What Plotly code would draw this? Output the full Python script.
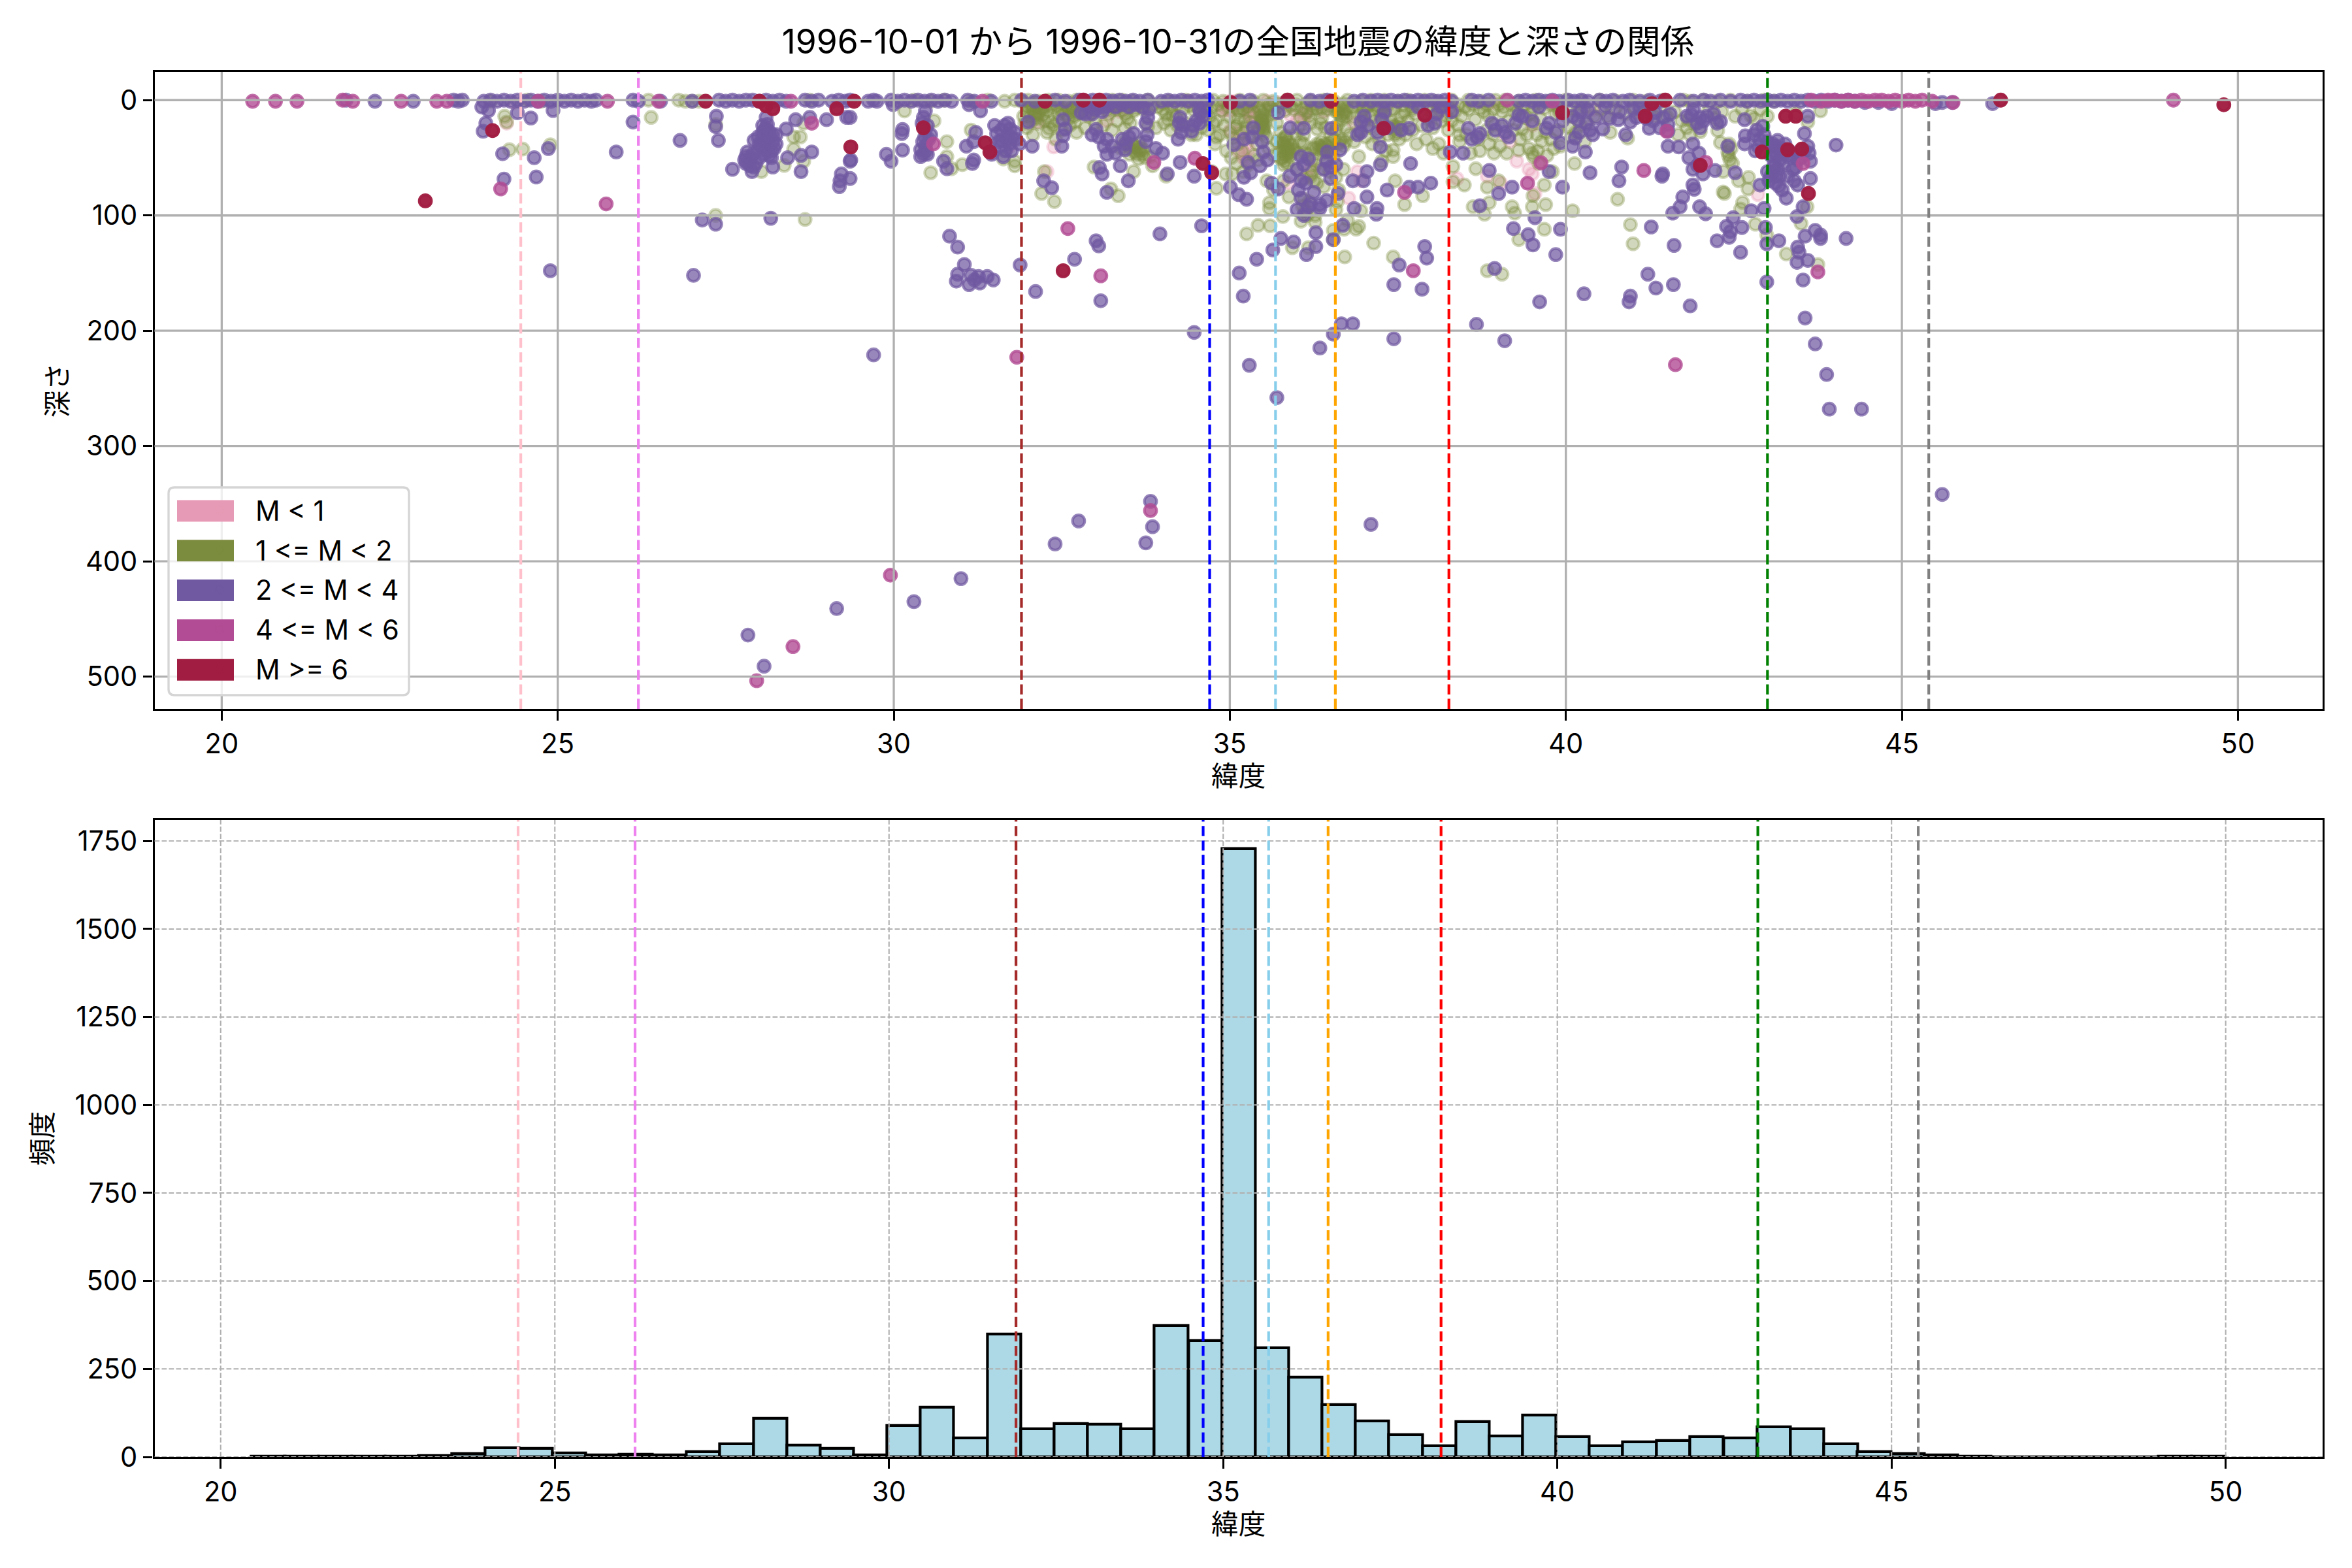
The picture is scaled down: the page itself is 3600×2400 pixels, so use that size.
import plotly.graph_objects as go

W, H = 3600, 2400

TITLE = "1996-10-01 から 1996-10-31の全国地震の緯度と深さの関係"
FONT = "Inter, Noto Sans CJK JP, sans-serif"

lat_ticks = [20, 25, 30, 35, 40, 45, 50]
depth_ticks = [0, 100, 200, 300, 400, 500]
freq_ticks = [0, 250, 500, 750, 1000, 1250, 1500, 1750]

ref_lats = [24.45, 26.2, 31.9, 34.7, 35.68, 36.57, 38.26, 43.0, 45.4]
ref_colors = ["#ffc0cb", "#ee82ee", "#a52a2a", "#0000ff", "#87ceeb", "#ffa500", "#ff0000", "#008000", "#808080"]

hist_centers = [20.71, 21.21, 21.71, 22.21, 22.71, 23.21, 23.71, 24.21, 24.71, 25.21,
                25.71, 26.21, 26.71, 27.22, 27.72, 28.22, 28.72, 29.22, 29.72, 30.22,
                30.72, 31.22, 31.72, 32.22, 32.72, 33.22, 33.72, 34.22, 34.73, 35.23,
                35.73, 36.23, 36.73, 37.23, 37.73, 38.23, 38.73, 39.23, 39.73, 40.23,
                40.73, 41.23, 41.73, 42.23, 42.74, 43.24, 43.74, 44.24, 44.74, 45.24,
                45.74, 46.24, 46.74, 47.24, 47.74, 48.24, 48.74, 49.24, 49.74]
hist_counts = [2, 2, 2, 1, 2, 3, 9, 26, 25, 12, 5, 7, 5, 15, 37, 109, 33, 24, 6, 90,
               142, 53, 349, 79, 95, 92, 80, 374, 331, 1728, 310, 227, 148, 103, 63, 32, 101, 60, 119, 58,
               32, 43, 47, 58, 54, 86, 80, 38, 15, 10, 5, 2, 0, 0, 0, 0, 0, 1, 1]

legend_labels = ["M < 1", "1 <= M < 2", "2 <= M < 4", "4 <= M < 6", "M >= 6"]
legend_colors = ["#e79ab5", "#7c8c3e", "#7059a1", "#b24c94", "#a11e42"]
series_alpha = [0.35, 0.35, 0.72, 0.8, 0.97]

pts_m0 = [(24.35, 2), (24.24, 20), (33.17, 18), (33.37, 10), (32.38, 40.6), (32.28, 62), (34.94, 3), (34.9, 9.4),
          (35.28, 9.4), (35.28, 43.4), (35.01, 26.4), (36.13, 10), (35.9, 13), (35.87, 72), (36.2, 58.5), (39.17, 36),
          (39.27, 53), (38.38, 68), (38.83, 66), (39.03, 72), (39.54, 81), (36.77, 85), (35.14, 45), (32.14, 19),
          (31.73, 40), (42.86, 82), (35.0, 1), (34.96, 5), (35.05, 2), (35.1, 1), (35.3, 14), (35.18, 34),
          (35.2, 50), (35.35, 20), (35.55, 1), (35.7, 2), (36.0, 18), (36.25, 2), (36.4, 10), (36.15, 66),
          (39.1, 30), (39.5, 22), (33.0, 4), (32.6, 3), (32.9, 12), (33.6, 3), (34.4, 1), (37.3, 3), (38.9, 2), (40.4, 8),
          (34.92, 7), (34.97, 8), (35.02, 9), (35.32, 6), (35.3, 12), (35.33, 9), (35.14, 28), (35.25, 38), (35.22, 46),
          (35.24, 52), (36.12, 12), (36.1, 17), (36.85, 20), (36.9, 62), (36.95, 70), (39.45, 60), (39.5, 64), (38.1, 4)]

pts_m1 = [(30.16, 9.4), (30.6, 18), (30.79, 36), (30.79, 49), (31.02, 56), (30.86, 59.5), (30.55, 63), (31.15, 26),
          (31.8, 53), (31.8, 57), (31.63, 51), (32.07, 30), (32.31, 24.5), (32.34, 19), (32.41, 34), (32.24, 62),
          (32.2, 81), (32.39, 88), (33.34, 83), (33.23, 77), (32.98, 58), (33.57, 62), (33.44, 24.5), (33.78, 22.7),
          (33.57, 9.4), (33.44, 36), (33.57, 40), (33.71, 43), (33.81, 49), (33.64, 51), (33.85, 57), (33.37, 41.5),
          (33.51, 47), (34.05, 66), (34.43, 30), (34.8, 32), (34.73, 62), (34.94, 64), (34.8, 76.5), (35.04, 64),
          (35.48, 17), (35.51, 24.5), (35.3, 19), (35.83, 32), (35.86, 43), (35.89, 49), (35.76, 51), (36.37, 40),
          (36.23, 41.5), (36.17, 47), (36.51, 41.5), (36.64, 36), (36.67, 17), (36.61, 11), (37.46, 22.7), (37.39, 19),
          (37.12, 13), (36.37, 15), (35.59, 89), (35.59, 94), (35.79, 101), (36.06, 105), (36.27, 106), (36.27, 100),
          (35.88, 84), (35.42, 108.6), (35.6, 109), (35.25, 116), (35.93, 128), (36.17, 128), (36.54, 113), (36.54, 121),
          (36.71, 136), (37.14, 124), (36.92, 109.5), (36.88, 112), (36.92, 49), (36.69, 60), (36.58, 67), (37.43, 136),
          (37.46, 70), (37.43, 49), (37.26, 53), (38.11, 38), (38.25, 26), (38.42, 30), (37.43, 43.4), (36.95, 96),
          (36.3, 72), (37.6, 90.6), (37.87, 83), (38.49, 73.6), (38.32, 57.6), (38.32, 70.8), (38.66, 59.5), (38.93, 46),
          (38.86, 38), (38.69, 34), (38.42, 36), (38.62, 92.5), (38.86, 89), (38.83, 75.5), (39.0, 70), (38.79, 99),
          (39.2, 92.5), (39.24, 98), (39.51, 83), (39.5, 92.5), (39.7, 90.6), (39.68, 73.6), (39.3, 43.4), (39.3, 121),
          (39.68, 112), (38.83, 148), (39.05, 151), (39.64, 36), (39.57, 30), (39.92, 40), (38.94, 21),
          (35.0, 15), (35.1, 22), (35.2, 28), (35.3, 32), (35.35, 10), (35.4, 38), (35.6, 5), (35.65, 12), (35.7, 20),
          (35.75, 28), (35.8, 38), (35.95, 42), (36.0, 46), (36.1, 38), (36.1, 30), (35.95, 8), (36.05, 15), (36.2, 20),
          (36.3, 25), (36.45, 8), (36.5, 30), (36.6, 22), (36.75, 6), (36.85, 15), (37.0, 8), (37.1, 24), (37.3, 12),
          (37.35, 30), (37.55, 14), (37.7, 6), (37.85, 22), (38.0, 10), (38.15, 18), (32.0, 6), (32.1, 14), (32.2, 8),
          (32.45, 12), (32.6, 8), (32.8, 5), (32.9, 14), (33.0, 8), (33.2, 12), (33.35, 6), (34.0, 8), (34.2, 14),
          (34.3, 22), (34.6, 6), (35.1, 55), (35.2, 62), (35.55, 70), (35.65, 78), (35.8, 70), (36.0, 60), (36.2, 66),
          (36.4, 75), (36.35, 60), (36.55, 50), (39.4, 15), (39.6, 55), (39.8, 62), (39.85, 12),
          (40.96, 108), (41.0, 124.6), (40.77, 86), (40.1, 96), (40.13, 55), (40.66, 28), (40.92, 33), (41.67, 30),
          (42.26, 26.5), (42.0, 27.4), (42.75, 13.6), (42.3, 36.8), (42.41, 45), (42.48, 54.8), (42.34, 62), (42.57, 70),
          (42.72, 67), (42.71, 77), (42.34, 79.7), (42.36, 81), (42.63, 88.8), (42.6, 94.4), (42.82, 107.6), (42.99, 117),
          (43.28, 133.5), (43.5, 107), (43.75, 142.6), (43.59, 92.5), (43.6, 19), (43.79, 9.4), (41.82, 17), (43.42, 11),
          (24.21, 14), (24.24, 19), (24.28, 43), (24.48, 42.5), (24.89, 38.7), (26.39, 15), (27.35, 21), (27.35, 100),
          (28.68, 103.5), (28.51, 32), (28.61, 32), (28.51, 42.5), (28.66, 20), (28.66, 53), (28.37, 56.6), (28.03, 62),
          (28.1, 32), (26.8, 0), (26.9, 1), (27.0, 1), (24.0, 1), (24.55, 0), (24.75, 1), (26.35, 0), (27.1, 1), (28.75, 0),
          (30.3, 0), (30.55, 1), (30.75, 0), (31.15, 1), (31.4, 0), (31.65, 1), (31.8, 0), (31.9, 1), (32.0, 0), (32.15, 1),
          (32.3, 0), (32.45, 0), (32.6, 1), (32.72, 0), (33.05, 1), (33.25, 0), (33.4, 0), (33.55, 1), (33.78, 0), (34.1, 1),
          (34.35, 0), (34.75, 0), (34.9, 1), (35.15, 0), (35.35, 1), (35.5, 0), (35.65, 1), (35.85, 0), (36.0, 0), (36.2, 1),
          (36.4, 0), (36.55, 1), (36.75, 0), (36.95, 1), (37.1, 0), (37.3, 0), (37.5, 1), (37.65, 0), (37.9, 0), (38.05, 1),
          (38.3, 0), (38.55, 0), (38.75, 1), (38.95, 0), (39.1, 0), (39.3, 1), (39.55, 0), (39.75, 1), (40.0, 0), (40.25, 1),
          (40.5, 0), (40.75, 1), (41.0, 0), (41.2, 1), (41.45, 0), (41.75, 0), (41.85, 1), (42.05, 0), (42.25, 1), (42.45, 0),
          (42.7, 1), (42.95, 0), (43.1, 1)]

# tight clusters that read as solid olive in the reference
pts_m1_dense = [(35.46, 14), (35.47, 17), (35.48, 20), (35.49, 23), (35.5, 26), (35.51, 29), (35.47, 21), (35.49, 18),
                (35.52, 21), (35.44, 24), (35.53, 15), (35.5, 12), (35.45, 10), (35.55, 32), (35.42, 28),
                (35.78, 34), (35.8, 37), (35.82, 40), (35.84, 43), (35.86, 46), (35.81, 44), (35.79, 40), (35.83, 48),
                (35.85, 39), (35.87, 36), (35.88, 42), (35.9, 46), (35.76, 45), (35.78, 50), (35.82, 53), (35.84, 31),
                (35.86, 55), (35.8, 56), (35.92, 39), (35.94, 44), (36.3, 38), (36.33, 40), (36.36, 36), (36.39, 42),
                (36.42, 38), (36.45, 40), (36.41, 44), (36.38, 46), (36.35, 43), (36.28, 42), (36.48, 37), (36.5, 44),
                (36.55, 34), (36.62, 38), (36.66, 34), (36.69, 40), (36.72, 36), (36.68, 12), (36.7, 9), (36.65, 14),
                (36.6, 8), (36.72, 11), (36.74, 14), (37.45, 25), (37.48, 28), (37.42, 22), (37.5, 24), (37.46, 30),
                (37.52, 20), (33.55, 38), (33.6, 40), (33.63, 42), (33.66, 44), (33.62, 47), (33.58, 45), (33.68, 41),
                (33.7, 47), (33.52, 42), (33.65, 37), (33.48, 39), (33.74, 50), (32.0, 10), (32.03, 14), (32.07, 8),
                (32.1, 11), (32.13, 16), (32.16, 12), (32.05, 18), (32.18, 7), (32.22, 13), (32.25, 18), (31.93, 14),
                (31.95, 20), (31.98, 24), (32.55, 12), (32.6, 16), (32.63, 10), (32.68, 14), (32.7, 19), (32.75, 12),
                (32.45, 18), (33.45, 12), (33.48, 16), (33.52, 20), (34.05, 12), (34.08, 17), (34.15, 13), (34.65, 10),
                (34.7, 14), (34.75, 20), (34.8, 18), (35.0, 28), (35.05, 33), (35.08, 24), (35.12, 16), (35.15, 10),
                (35.2, 8), (35.22, 18), (35.25, 24), (36.02, 24), (36.15, 10), (36.18, 14), (36.3, 8), (36.35, 20),
                (36.42, 24), (36.95, 14), (37.0, 18), (37.05, 6), (37.15, 18), (37.2, 8), (37.25, 14), (37.4, 8),
                (37.6, 10), (37.65, 18), (37.75, 12), (37.95, 16), (38.02, 24), (38.12, 9), (38.22, 14), (38.35, 10),
                (38.45, 14), (38.55, 8), (38.65, 17), (38.78, 10), (38.85, 14), (39.05, 10), (39.15, 18), (39.25, 11),
                (39.35, 25), (39.47, 12), (39.52, 20), (39.62, 16), (39.7, 28), (39.78, 34), (39.82, 42), (39.45, 42),
                (39.5, 46), (39.52, 49), (39.9, 10), (40.02, 14), (40.05, 24), (40.08, 32), (40.15, 28), (40.22, 22),
                (40.28, 36), (40.32, 20), (41.4, 8), (41.5, 14), (41.8, 24), (41.85, 30), (41.9, 20), (42.42, 48),
                (42.44, 52), (42.46, 42), (42.43, 38), (36.1, 86), (36.08, 92), (36.12, 96), (36.15, 100), (36.18, 88),
                (36.1, 68), (36.25, 70), (36.22, 62), (36.6, 88), (36.58, 95), (36.62, 78), (36.75, 104), (36.7, 112)]

# further shallow olive events between 32 and 40 degrees
pts_m1_shallow = [(32.02, 3), (32.06, 5), (32.12, 4), (32.18, 3), (32.24, 6), (32.28, 9), (32.33, 4), (32.38, 7), (32.43, 5), (32.5, 9),
                  (32.57, 5), (32.65, 7), (32.72, 5), (32.78, 9), (32.85, 3), (32.92, 8), (32.97, 4), (33.03, 7), (33.1, 3), (33.17, 9),
                  (33.24, 5), (33.3, 8), (33.38, 4), (33.42, 9), (33.5, 4), (33.6, 7), (33.67, 4), (33.72, 8), (33.85, 4), (33.92, 6),
                  (34.0, 3), (34.12, 6), (34.22, 4), (34.3, 8), (34.4, 5), (34.47, 9), (34.52, 6), (34.62, 4), (34.72, 7), (34.82, 4),
                  (34.88, 9), (34.98, 6), (35.05, 5), (35.12, 8), (35.18, 4), (35.26, 6), (35.33, 3), (35.42, 6), (35.52, 8), (35.58, 4),
                  (35.62, 9), (35.72, 6), (35.78, 3), (35.82, 9), (35.9, 5), (35.98, 4), (36.08, 8), (36.14, 3), (36.22, 8), (36.28, 4),
                  (36.36, 7), (36.48, 5), (36.56, 9), (36.63, 5), (36.7, 3), (36.82, 6), (36.9, 4), (36.98, 7), (37.08, 4), (37.18, 5),
                  (37.27, 7), (37.35, 4), (37.45, 8), (37.58, 4), (37.72, 8), (37.82, 4), (37.98, 5), (38.1, 6), (38.18, 4), (38.28, 7),
                  (38.4, 4), (38.5, 6), (38.62, 4), (38.72, 7), (38.82, 4), (38.92, 8), (39.0, 4), (39.08, 6), (39.2, 4), (39.28, 8),
                  (39.38, 4), (39.5, 6), (39.6, 3), (39.68, 7), (39.78, 4), (39.88, 6), (32.15, 20), (32.28, 28), (32.38, 22), (32.5, 26),
                  (32.62, 22), (32.72, 28), (32.85, 24), (33.0, 20), (33.12, 22), (33.25, 26), (33.32, 18), (33.9, 24), (34.02, 20),
                  (34.12, 26), (34.22, 22), (34.35, 20), (34.5, 30), (34.58, 24), (34.68, 26), (34.78, 38), (34.85, 30), (34.92, 22), (34.95, 44),
                  (35.02, 50), (35.12, 38), (35.18, 44), (35.28, 56), (35.36, 48), (35.42, 52), (35.58, 42), (35.66, 48), (35.7, 36), (35.98, 30),
                  (36.05, 36), (36.12, 46), (36.22, 52), (36.28, 56), (36.44, 52), (36.48, 62), (36.58, 26), (36.72, 24), (36.78, 30), (36.85, 36),
                  (36.92, 26), (37.02, 32), (37.12, 38), (37.22, 34), (37.32, 44), (37.52, 34), (37.62, 30), (37.72, 26), (37.78, 38), (37.92, 34),
                  (38.02, 42), (38.18, 46), (38.3, 18), (38.4, 22), (38.52, 30), (38.58, 46), (38.72, 44), (38.82, 26), (38.92, 30), (39.02, 40),
                  (39.12, 46), (39.22, 26), (39.32, 34), (39.42, 30), (39.58, 44), (39.72, 48), (39.88, 26), (40.08, 8), (40.18, 10), (40.28, 6),
                  (40.42, 14), (40.52, 8), (40.62, 14), (40.72, 8), (40.88, 12), (41.02, 6), (41.12, 12), (41.22, 8), (41.32, 14), (41.62, 10),
                  (41.72, 18), (42.12, 10), (42.22, 16), (42.32, 10), (42.52, 14), (42.62, 8), (42.8, 16), (42.9, 8), (43.0, 14)]

pts_m2 = [(27.83, 464), (28.07, 491), (21.85, 0), (22.28, 1), (22.85, 1), (23.45, 0), (23.52, 1), (23.58, 0),
          (23.87, 6), (23.97, 9), (24.4, 11), (24.6, 15.5), (24.93, 9), (23.93, 20), (23.89, 27), (26.12, 19),
          (26.82, 35), (27.36, 14), (27.35, 23), (27.39, 35), (28.1, 15), (28.4, 25), (28.54, 17), (28.75, 15),
          (29.0, 17), (29.3, 15), (28.13, 34), (28.1, 24), (28.05, 28), (28.2, 30), (28.0, 38), (28.25, 38), (28.18, 44),
          (27.98, 32), (28.12, 21), (28.15, 48), (28.08, 41), (27.92, 35), (27.8, 49), (27.86, 57), (28.2, 58), (28.42, 50),
          (28.62, 48), (28.78, 45), (28.62, 62), (27.6, 60), (27.89, 62), (27.78, 52), (27.84, 54), (27.95, 55), (29.2, 70),
          (29.19, 75), (29.22, 64), (29.36, 52), (24.18, 46.5), (24.65, 50), (24.86, 42), (25.87, 45), (24.2, 68.5),
          (24.68, 66.7), (27.15, 104), (27.35, 107.6), (28.17, 102.5), (24.89, 148), (27.02, 152),
          (29.99, 4), (29.35, 15), (30.13, 25.5), (30.12, 29), (30.44, 15), (30.47, 9.4), (30.47, 26), (30.47, 40), (30.5, 47),
          (30.4, 49), (30.13, 43.4), (29.89, 47), (29.96, 53), (29.35, 53), (29.35, 68), (30.74, 53), (30.79, 59.5), (31.17, 55),
          (31.19, 52), (31.08, 40), (31.19, 36), (31.12, 4), (31.29, 9.4), (31.22, 28), (31.46, 47), (31.63, 49), (31.7, 30),
          (31.53, 29), (31.73, 25), (31.87, 38), (32.0, 19), (32.06, 40), (32.52, 31), (32.52, 17), (33.01, 25.5), (33.17, 34),
          (33.13, 40), (33.57, 29), (33.77, 30), (33.44, 43), (33.17, 47), (33.37, 57), (33.06, 58.5), (33.1, 64), (33.49, 70),
          (32.23, 70), (32.35, 76), (33.17, 80), (34.0, 46), (34.26, 54), (34.07, 64), (34.47, 66), (34.23, 34), (34.43, 27),
          (34.56, 11), (34.26, 15), (33.78, 15), (32.79, 11), (30.83, 118), (30.95, 127.5), (31.05, 142.6), (30.95, 151),
          (30.93, 157), (31.12, 160), (31.28, 158.6), (31.26, 153), (31.39, 153), (31.48, 156), (31.15, 152), (31.2, 156),
          (31.88, 143), (32.11, 166), (33.01, 122), (33.05, 126.5), (32.69, 138), (33.08, 174), (33.96, 116), (34.58, 109),
          (34.47, 201.5), (29.7, 221), (35.29, 230), (35.14, 150), (35.4, 138), (35.64, 130), (35.76, 120), (35.95, 123),
          (36.14, 134), (36.28, 127), (36.28, 115), (36.68, 108.6), (36.54, 121), (36.66, 194), (36.83, 194), (36.54, 203),
          (36.34, 215), (37.44, 207), (38.67, 194.5), (39.09, 208.7), (35.2, 170), (37.44, 160), (37.86, 164), (37.52, 143),
          (37.9, 127), (37.93, 137), (39.61, 175), (38.94, 146), (39.22, 111.4), (39.44, 116.7), (39.51, 125.6), (39.54, 102),
          (39.85, 134), (39.92, 112), (35.01, 75.5), (35.13, 82), (35.25, 86), (35.21, 67), (35.31, 63), (35.45, 57), (35.27, 54),
          (35.06, 38.7), (35.21, 34), (35.34, 32), (35.62, 72), (35.72, 77), (35.89, 66), (36.06, 70), (36.13, 72), (36.06, 85),
          (36.17, 92.5), (36.0, 95), (36.34, 94), (36.44, 87), (36.61, 81), (36.85, 94), (37.04, 84), (37.19, 94), (37.18, 99),
          (36.83, 70), (36.99, 70), (37.04, 62), (37.34, 78), (37.67, 75.5), (37.8, 75.5), (37.99, 72), (37.69, 55), (37.24, 56),
          (37.24, 40.6), (36.9, 30), (36.95, 19), (37.26, 17), (37.67, 24.5), (38.08, 12), (38.28, 45), (38.47, 46), (38.86, 61),
          (39.0, 81), (39.2, 75.5), (38.72, 91.6), (38.55, 24.5), (38.72, 29), (39.1, 28), (39.3, 13), (39.75, 62), (39.95, 75.5),
          (39.92, 37), (39.71, 24.5), (36.1, 24.5), (36.51, 24.5), (35.72, 11), (36.64, 43), (36.44, 53), (36.17, 51), (36.06, 49),
          (35.48, 36), (36.34, 90.6),
          (40.36, 63), (40.83, 58), (40.79, 70), (41.44, 64), (41.43, 66), (41.52, 40), (41.68, 40.6), (41.89, 38), (41.98, 46),
          (41.83, 50), (41.89, 60), (42.04, 64), (42.22, 61), (41.89, 73.6), (41.91, 77.4), (41.74, 84), (41.7, 92.5), (41.99, 92.5),
          (42.08, 98.6), (41.59, 98), (41.27, 110), (41.61, 126), (42.25, 122), (42.43, 119), (42.45, 114), (42.39, 109.5),
          (42.62, 110.5), (42.6, 132), (42.97, 110.5), (42.99, 124.6), (43.17, 122), (43.56, 118), (43.71, 113), (43.79, 117),
          (43.79, 120), (44.17, 120), (43.45, 127.5), (43.47, 132), (43.44, 140.7), (43.6, 139), (43.53, 156), (42.99, 157.7),
          (41.22, 151), (41.6, 160), (41.34, 163), (40.27, 168), (40.96, 170), (40.94, 175), (41.85, 178.5), (43.56, 189),
          (43.71, 211.5), (43.88, 238), (43.92, 268), (44.4, 268), (45.6, 342), (35.7, 258), (33.82, 348), (33.75, 384),
          (33.85, 370), (32.75, 365), (32.4, 385), (37.1, 368), (31.0, 415), (30.3, 435), (29.15, 441),
          (42.41, 40), (42.67, 31), (42.84, 26), (42.93, 22.7), (42.66, 38), (43.0, 36), (43.12, 40), (43.0, 62), (43.12, 66),
          (43.17, 74.6), (42.89, 73.7), (43.45, 73.7), (43.64, 68), (43.28, 85), (43.53, 92.5), (43.44, 101), (42.76, 96),
          (42.49, 102), (42.95, 94), (43.42, 58.5), (43.64, 53), (43.6, 40), (43.55, 29), (44.02, 39), (43.6, 14), (42.66, 17),
          (42.3, 18.5), (42.0, 15), (41.87, 13), (41.52, 21), (41.33, 11), (41.24, 24.5), (40.96, 19), (40.78, 17), (40.59, 5.7),
          (40.33, 8.5), (40.18, 17), (40.36, 26), (40.14, 33), (40.4, 30), (40.1, 40), (40.29, 45), (40.89, 30), (42.52, 63),
          (41.96, 56.6), (43.3, 49), (43.23, 55), (43.38, 60), (43.05, 48), (43.1, 55), (43.15, 35), (43.02, 70), (43.2, 45),
          (23.9, 1), (24.0, 0), (24.1, 1), (24.2, 0), (24.3, 1), (24.4, 0), (24.5, 1), (24.6, 0), (24.7, 1), (24.8, 0), (24.9, 1),
          (25.0, 0), (25.1, 1), (25.2, 0), (25.3, 1), (25.4, 0), (25.5, 1), (25.57, 0), (26.12, 0), (26.2, 1), (26.53, 1), (27.0, 1),
          (27.4, 0), (27.5, 1), (27.6, 0), (27.7, 1), (27.8, 0), (27.9, 0), (28.0, 1), (28.1, 0), (28.2, 1), (28.3, 0), (28.4, 1),
          (28.68, 0), (28.78, 1), (28.88, 0), (29.08, 1), (29.18, 0), (29.28, 1), (29.35, 0), (29.62, 1), (29.7, 0), (29.75, 1),
          (29.96, 0), (30.06, 1), (30.16, 0), (30.26, 1), (30.36, 0), (30.46, 1), (30.56, 0), (30.66, 1), (30.76, 0), (30.86, 1),
          (31.1, 0), (31.2, 1), (31.45, 1), (31.9, 0), (32.1, 1), (32.4, 0), (32.55, 1), (32.76, 0), (32.86, 1), (32.96, 0), (33.06, 1),
          (33.16, 0), (33.26, 1), (33.36, 0), (33.46, 1), (33.56, 0), (33.66, 1), (33.78, 0), (33.98, 1), (34.08, 0), (34.18, 1),
          (34.28, 0), (34.38, 1), (34.48, 0), (34.58, 1), (34.67, 0), (35.15, 1), (35.3, 0), (35.85, 1), (36.2, 0), (36.33, 1),
          (36.45, 0), (36.85, 1), (36.98, 0), (37.1, 1), (37.2, 0), (37.3, 1), (37.4, 0), (37.5, 1), (37.6, 0), (37.7, 1), (37.8, 0),
          (37.9, 1), (38.0, 0), (38.1, 1), (38.2, 0), (38.3, 1), (38.6, 0), (38.7, 1), (38.85, 0), (39.3, 1), (39.4, 0), (39.5, 1),
          (39.6, 0), (39.7, 1), (39.8, 0), (39.9, 1), (40.03, 0), (40.13, 1), (40.23, 0), (40.33, 1), (40.5, 0), (40.6, 1), (40.7, 0),
          (40.85, 1), (40.95, 0), (41.1, 1), (41.25, 0), (41.4, 1), (41.7, 0), (41.9, 1), (42.05, 0), (42.15, 1), (42.3, 0), (42.45, 1),
          (42.6, 0), (42.7, 1), (42.8, 0), (42.9, 1), (43.0, 0), (43.1, 1), (43.2, 0), (43.3, 1), (43.4, 0), (43.5, 1), (43.6, 0),
          (43.7, 1), (43.8, 0), (43.9, 1), (44.0, 0), (44.1, 1), (44.2, 0), (44.3, 1), (44.45, 2), (44.65, 2), (44.85, 3), (45.5, 3),
          (45.6, 2), (45.75, 2), (46.35, 3)]

# clusters that read as solid purple in the reference
pts_m2_dense = [(28.05, 22), (28.08, 26), (28.1, 30), (28.14, 27), (28.16, 31), (28.2, 36), (28.22, 42), (28.1, 37), (28.05, 33),
                (28.02, 40), (28.12, 44), (28.18, 50), (28.08, 47), (27.98, 44), (28.0, 50), (28.25, 30), (27.82, 45), (27.8, 55),
                (27.87, 50), (27.9, 47), (27.92, 58), (30.42, 20), (30.46, 32), (30.5, 22), (30.52, 34), (30.43, 36), (30.4, 43),
                (30.48, 44), (30.55, 30), (30.44, 47), (31.5, 22), (31.6, 26), (31.65, 22), (31.68, 34), (31.72, 38), (31.76, 33),
                (31.6, 35), (31.56, 36), (31.7, 20), (31.8, 28), (31.82, 34), (31.58, 40), (31.66, 44), (31.75, 44),
                (34.55, 20), (34.5, 18), (34.6, 14), (34.45, 22), (34.55, 8), (34.3, 22), (34.28, 28), (34.25, 20),
                (33.75, 20), (33.8, 8), (32.85, 12), (32.9, 6), (32.95, 12), (33.0, 8), (33.05, 6), (33.1, 10), (33.15, 6), (33.2, 4),
                (33.3, 6), (33.4, 4), (33.5, 6), (33.6, 4), (33.7, 6), (35.35, 24), (35.5, 45), (35.56, 52), (35.9, 24), (36.0, 60),
                (36.1, 56), (36.25, 80), (36.2, 90), (36.4, 60), (36.45, 45), (36.5, 58), (36.5, 68),
                (36.58, 56), (36.1, 100), (36.02, 78), (36.95, 28), (37.0, 14), (37.05, 22),
                (37.2, 28), (37.3, 10), (37.35, 24), (37.55, 26), (37.8, 6), (37.95, 22), (38.05, 20), (38.15, 6), (38.3, 10),
                (38.6, 34), (38.68, 32), (38.9, 20), (38.95, 26), (39.05, 22), (39.15, 32), (39.25, 20), (39.35, 14),
                (39.5, 18), (39.6, 6), (39.75, 20), (39.85, 28), (39.95, 18), (40.1, 14), (40.2, 28), (40.22, 10), (40.3, 20),
                (40.45, 15), (40.55, 25), (40.65, 16), (40.8, 10), (41.0, 8), (41.05, 15), (41.1, 7), (41.2, 16),
                (41.3, 18), (41.4, 24), (41.45, 15), (41.52, 27), (41.55, 12), (41.8, 14), (41.9, 8), (41.95, 20), (42.0, 24),
                (42.05, 18), (42.1, 14), (42.2, 12), (42.25, 20), (42.8, 30), (42.88, 34), (42.95, 30), (42.86, 40), (42.82, 44),
                (43.05, 40), (43.1, 45), (43.08, 38), (43.14, 48), (43.18, 52), (43.22, 42), (43.26, 38), (43.32, 44), (43.38, 48),
                (43.45, 52), (43.5, 50), (43.55, 44), (43.62, 46), (43.1, 58), (43.08, 62), (43.15, 60), (43.05, 66), (43.18, 66),
                (43.12, 72), (43.22, 78), (43.3, 66), (43.4, 70), (33.4, 34), (33.45, 38), (33.5, 32), (33.3, 46), (33.25, 40),
                (33.75, 36), (33.9, 42), (32.95, 30), (33.05, 32), (32.5, 40), (32.55, 25)]

pts_m4 = [(20.46, 1), (20.8, 1), (21.12, 1), (21.8, 0), (21.95, 1), (22.67, 1), (23.2, 1), (23.35, 1), (24.71, 1), (25.74, 1),
          (26.5, 1), (24.15, 77), (25.72, 90), (28.78, 20), (28.47, 1), (30.59, 38), (31.32, 1), (32.59, 111.4), (33.08, 152.4),
          (34.48, 50.4), (33.87, 54), (37.6, 80), (37.73, 148), (39.63, 54.4), (39.43, 72), (39.13, 0), (39.8, 1), (31.83, 223),
          (33.82, 356), (29.95, 412), (28.5, 474), (27.96, 503.6), (41.63, 229.5), (41.16, 61), (43.75, 149), (43.53, 55),
          (42.08, 54), (41.5, 27), (43.65, 0), (43.8, 1), (43.9, 0), (44.0, 0), (44.1, 1), (44.2, 0), (44.3, 1), (44.4, 0), (44.5, 1),
          (44.6, 0), (44.7, 0), (44.8, 1), (44.9, 0), (45.0, 1), (45.1, 0), (45.2, 1), (45.3, 0), (45.45, 1), (45.76, 2), (49.04, 0)]

pts_m6 = [(23.03, 87.4), (24.03, 26.4), (27.2, 1), (28.0, 1), (28.1, 5), (28.2, 7.5), (29.15, 7.5), (29.36, 40.6), (29.41, 1),
          (30.44, 24), (31.36, 37), (31.43, 45), (32.25, 1), (32.82, 0), (33.06, 0), (34.6, 55), (34.73, 63), (35.01, 2), (35.86, 0),
          (36.51, 1), (37.9, 13), (37.29, 24.5), (32.52, 148), (39.95, 11), (41.28, 3), (41.48, 0), (43.27, 14), (43.42, 14),
          (42.92, 45), (43.3, 43), (43.51, 42.5), (42.0, 56.6), (41.18, 14), (43.61, 81), (46.47, 0), (49.79, 4)]

all_points = [pts_m0, pts_m1 + pts_m1_dense + pts_m1_shallow, pts_m2 + pts_m2_dense, pts_m4, pts_m6]


def rgba(hexcol, a):
    r, g, b = int(hexcol[1:3], 16), int(hexcol[3:5], 16), int(hexcol[5:7], 16)
    return f"rgba({r},{g},{b},{a})"


def px(x):
    return x / W


def py(y):
    return 1 - y / H


fig = go.Figure()

for name, col, alpha, pts in zip(legend_labels, legend_colors, series_alpha, all_points):
    c = rgba(col, alpha)
    fig.add_trace(go.Scatter(
        x=[p[0] for p in pts], y=[p[1] for p in pts], mode="markers", name=name,
        legendgroup=name, xaxis="x", yaxis="y",
        marker=dict(size=18.6, color=c, line=dict(color=c, width=4.17)),
    ))

fig.add_trace(go.Bar(
    x=hist_centers, y=hist_counts, width=0.5005, xaxis="x2", yaxis="y2", showlegend=False,
    marker=dict(color="#add8e6", line=dict(color="black", width=4.17)),
))

for t in lat_ticks:
    fig.add_shape(type="line", xref="x", yref="y domain", x0=t, x1=t, y0=0, y1=1,
                  line=dict(color="#b0b0b0", width=3.33), layer="above")
    fig.add_shape(type="line", xref="x2", yref="y2 domain", x0=t, x1=t, y0=0, y1=1,
                  line=dict(color="#b0b0b0", width=2.08, dash="7.7px,3.3px"), layer="above")
for t in depth_ticks:
    fig.add_shape(type="line", xref="x domain", yref="y", x0=0, x1=1, y0=t, y1=t,
                  line=dict(color="#b0b0b0", width=3.33), layer="above")
for t in freq_ticks:
    fig.add_shape(type="line", xref="x2 domain", yref="y2", x0=0, x1=1, y0=t, y1=t,
                  line=dict(color="#b0b0b0", width=2.08, dash="7.7px,3.3px"), layer="above")

for v, col in zip(ref_lats, ref_colors):
    fig.add_shape(type="line", xref="x", yref="y domain", x0=v, x1=v, y0=0, y1=1,
                  line=dict(color=col, width=4.17, dash="15.4px,6.7px"), layer="above")
    fig.add_shape(type="line", xref="x2", yref="y2 domain", x0=v, x1=v, y0=0, y1=1,
                  line=dict(color=col, width=4.17, dash="15.4px,6.7px"), layer="above")

L, R, T, B, RAD = 258, 626, 746, 1064, 9
frame = (f"M {px(L+RAD)} {py(T)} L {px(R-RAD)} {py(T)} Q {px(R)} {py(T)} {px(R)} {py(T+RAD)} "
         f"L {px(R)} {py(B-RAD)} Q {px(R)} {py(B)} {px(R-RAD)} {py(B)} L {px(L+RAD)} {py(B)} "
         f"Q {px(L)} {py(B)} {px(L)} {py(B-RAD)} L {px(L)} {py(T+RAD)} Q {px(L)} {py(T)} {px(L+RAD)} {py(T)} Z")
fig.add_shape(type="path", path=frame, xref="paper", yref="paper", layer="above",
              fillcolor="rgba(255,255,255,0.8)", line=dict(color="#d5d5d5", width=3.33))
for i, col in enumerate(legend_colors):
    yc = 782 + i * 60.8
    fig.add_shape(type="rect", xref="paper", yref="paper", layer="above",
                  x0=px(271), x1=px(358), y0=py(yc - 16.5), y1=py(yc + 16.5),
                  fillcolor=col, line=dict(width=0))

axis_common = dict(showline=True, mirror=True, linecolor="black", linewidth=3.33, ticks="outside",
                   ticklen=14.6, tickwidth=3.33, tickcolor="black", showgrid=False, zeroline=False,
                   automargin=False, tickfont=dict(size=41.67, color="black", family=FONT))
x_dom = [px(236.5), px(3555)]

fig.update_layout(
    width=W, height=H, autosize=False, paper_bgcolor="white", plot_bgcolor="white",
    margin=dict(l=0, r=0, t=0, b=0, autoexpand=False), bargap=0,
    font=dict(family=FONT, size=41.67, color="black"),
    title=dict(text=TITLE, x=px(1895), y=py(64), xanchor="center", yanchor="middle",
               font=dict(size=51.6, family=FONT, color="black")),
    xaxis=dict(domain=x_dom, range=[19.0, 51.26], tickvals=lat_ticks, anchor="y",
               title=dict(text="緯度", font=dict(size=41.67, family=FONT), standoff=11), **axis_common),
    yaxis=dict(domain=[py(1085), py(110)], range=[528, -24.5], tickvals=depth_ticks, anchor="x",
               title=dict(text="深さ", font=dict(size=41.67, family=FONT), standoff=15), **axis_common),
    xaxis2=dict(domain=x_dom, range=[19.01, 51.45], tickvals=lat_ticks, anchor="y2",
                title=dict(text="緯度", font=dict(size=41.67, family=FONT), standoff=11), **axis_common),
    yaxis2=dict(domain=[py(2230), py(1255)], range=[0, 1810], tickvals=freq_ticks, anchor="x2",
                title=dict(text="頻度", font=dict(size=41.67, family=FONT), standoff=22), **axis_common),
    legend=dict(x=px(281), y=py(747), xanchor="left", yanchor="top", bgcolor="rgba(0,0,0,0)",
                borderwidth=0, itemwidth=100, tracegroupgap=3.6, traceorder="grouped",
                itemsizing="constant", font=dict(size=41.67, family=FONT, color="black")),
    showlegend=True,
)

fig.write_html("out.html", config=dict(displayModeBar=False),
               post_script="document.body.style.margin='0';")
